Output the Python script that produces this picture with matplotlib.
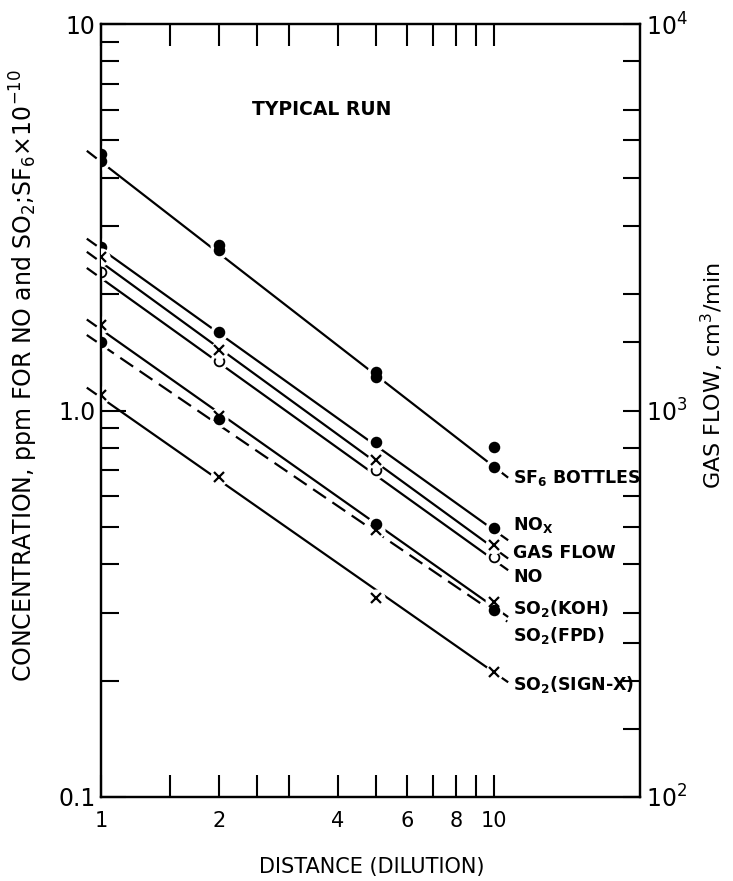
import numpy as np
import matplotlib
matplotlib.use("Agg")
import matplotlib.pyplot as plt
from matplotlib.ticker import FixedLocator, NullFormatter

plt.rcParams['font.family'] = ['DejaVu Sans']
plt.rcParams['mathtext.default'] = 'regular'

# distances (dilution) where samples were taken
distance = [1, 2, 5, 10]

# measured points (left axis, ppm / SF6 x 1e-10)
sf6_a = [4.6, 2.68, 1.26, 0.805]
sf6_b = [4.43, 2.60, 1.22, 0.715]
nox = [2.65, 1.60, 0.83, 0.497]
no = [2.28, 1.34, 0.70, 0.418]
so2_koh = [1.66, 0.97, 0.49, 0.32]
so2_fpd = [1.50, 0.95, 0.51, 0.305]
so2_signx = [1.10, 0.673, 0.327, 0.21]
# gas flow on right axis, cm3/min
gas_flow = [2500, 1430, 745, 449]

# hand fitted lines: value at distance 1 and at distance 10
fit_names = ['SF6', 'NOX', 'NO', 'KOH', 'FPD', 'SIGNX']
fit_start = [4.40, 2.62, 2.20, 1.62, 1.48, 1.08]
fit_end = [0.715, 0.49, 0.41, 0.31, 0.30, 0.21]
gas_fit = [2420, 440]

fig = plt.figure(figsize=(7.33, 8.81), dpi=100)
ax = fig.add_axes([101/733, 1-797/881, 539/733, 773/881])
ax.set_xscale('log')
ax.set_yscale('log')
ax.set_xlim(1, 23.5)
ax.set_ylim(0.1, 10)

ax2 = ax.twinx()
ax2.set_yscale('log')
ax2.set_ylim(100, 10000)

lw = 1.6

def fit_line(axis, v1, v10, style='-'):
    xs = np.array([1.0, 10.8])
    slope = np.log10(v10 / v1)
    ys = v1 * xs ** slope
    axis.plot(xs, ys, color='black', lw=lw, ls=style, dashes=(7, 3.5) if style == '--' else (None, None), zorder=2)
    xe = np.array([0.925, 0.97])
    axis.plot(xe, v1 * xe ** slope, color='black', lw=lw, clip_on=False, zorder=2)

for i in range(len(fit_names)):
    fit_line(ax, fit_start[i], fit_end[i], '--' if fit_names[i] == 'FPD' else '-')
fit_line(ax2, gas_fit[0], gas_fit[1])

def points(axis, ys, marker, face):
    axis.plot(distance, ys, ls='none', marker='o', ms=12, mfc='white', mec='white', zorder=3)
    if marker == 'x':
        axis.plot(distance, ys, ls='none', marker='x', ms=7, mew=1.6, color='black', zorder=4)
    else:
        axis.plot(distance, ys, ls='none', marker='o', ms=7, mfc=face, mec='black', mew=1.3, zorder=4)

points(ax, sf6_a, 'o', 'black')
points(ax, sf6_b, 'o', 'black')
points(ax, nox, 'o', 'black')
points(ax, no, 'o', 'white')
points(ax, so2_koh, 'x', None)
points(ax, so2_fpd, 'o', 'black')
points(ax, so2_signx, 'x', None)
points(ax2, gas_flow, 'x', None)

# ticks
ax.xaxis.set_major_locator(FixedLocator([1, 2, 4, 6, 8, 10]))
ax.xaxis.set_minor_locator(FixedLocator([1.5, 2.5, 3, 5, 7, 9]))
ax.set_xticklabels(['1', '2', '4', '6', '8', '10'])
ax.xaxis.set_minor_formatter(NullFormatter())
ax.tick_params(axis='x', which='both', direction='in', top=True, length=16, width=1.5,
               labelsize=15, pad=10)

ax.yaxis.set_major_locator(FixedLocator([0.1, 1, 10]))
ax.yaxis.set_minor_locator(FixedLocator([k * 10.0 ** e for e in (-1, 0) for k in range(2, 10)]))
ax.set_yticklabels(['0.1', '1.0', '10'])
ax.yaxis.set_minor_formatter(NullFormatter())
ax.tick_params(axis='y', which='major', direction='in', length=18, width=1.5, labelsize=17, pad=4)
ax.tick_params(axis='y', which='minor', direction='in', length=13, width=1.5)

ax2.yaxis.set_major_locator(FixedLocator([100, 1000, 10000]))
ax2.yaxis.set_minor_locator(FixedLocator([150, 200, 250, 300, 400, 500, 600, 800,
                                          1500, 2000, 3000, 4000, 5000, 6000, 8000]))
ax2.set_yticklabels(['$10^2$', '$10^3$', '$10^4$'])
ax2.yaxis.set_minor_formatter(NullFormatter())
ax2.tick_params(axis='y', which='both', direction='in', length=12, width=1.5, labelsize=17, pad=4)

for a in (ax, ax2):
    for s in a.spines.values():
        s.set_linewidth(1.6)

# curve labels
lab_x = 11.2
labels = [('SF$_6$ BOTTLES', 0.669), ('NO$_X$', 0.506), ('GAS FLOW', 0.428), ('NO', 0.371),
          ('SO$_2$(KOH)', 0.308), ('SO$_2$(FPD)', 0.262), ('SO$_2$(SIGN-X)', 0.195)]
for txt, yv in labels:
    ax.text(lab_x, yv, txt, fontsize=12.5, fontweight='bold', va='center', ha='left')

ax.text(0.28, 0.89, 'TYPICAL RUN', transform=ax.transAxes, fontsize=13.5, fontweight='bold',
        ha='left', va='center')

fig.text(372/733, 1-867/881, 'DISTANCE (DILUTION)', fontsize=15, ha='center', va='center')
fig.text(24/733, 1-376/881, 'CONCENTRATION, ppm FOR NO and SO$_2$;SF$_6$$\\times$10$^{-10}$',
         fontsize=17, rotation=90, ha='center', va='center')
fig.text(712/733, 1-376/881, 'GAS FLOW, cm$^3$/min', fontsize=16, rotation=90,
         ha='center', va='center')

fig.savefig('out.png', dpi=100)
